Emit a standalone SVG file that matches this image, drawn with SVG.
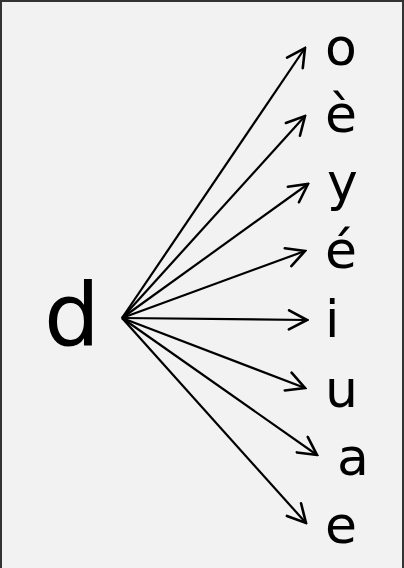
<svg xmlns="http://www.w3.org/2000/svg" width="404" height="568" viewBox="0 0 404 568">
<style>
.t{font-family:"DejaVu Sans","Liberation Sans",sans-serif;fill:#000;}
.v{font-size:52px;}
.c{stroke:#000;stroke-width:2.2;fill:none;marker-end:url(#ah);}
</style>
<defs>
<marker id="ah" viewBox="0 0 22 22" refX="20" refY="11" markerWidth="22" markerHeight="22" markerUnits="userSpaceOnUse" orient="auto">
<path d="M2,1.5 L20,11 L2,20.5" fill="none" stroke="#000" stroke-width="2.6" stroke-linecap="round" stroke-linejoin="miter"/>
</marker>
</defs>
<rect x="1" y="1" width="402" height="590" fill="#f2f2f2" stroke="#333" stroke-width="2"/>
<g id="connectors">
<line class="c" x1="122" y1="318" x2="305" y2="48"/>
<line class="c" x1="122" y1="318" x2="305" y2="116"/>
<line class="c" x1="122" y1="318" x2="308" y2="184"/>
<line class="c" x1="122" y1="318" x2="305" y2="251"/>
<line class="c" x1="122" y1="318" x2="307" y2="320"/>
<line class="c" x1="122" y1="318" x2="305" y2="388"/>
<line class="c" x1="122" y1="318" x2="317" y2="455"/>
<line class="c" x1="122" y1="318" x2="306" y2="523"/>
</g>
<g id="n-d"><text class="t" x="44" y="345" font-size="88">d</text></g>
<g id="n-o"><text class="t v" x="325" y="65">o</text></g>
<g id="n-egrave"><text class="t v" x="325" y="132">è</text></g>
<g id="n-y"><text class="t v" x="327" y="200">y</text></g>
<g id="n-eacute"><text class="t v" x="325" y="268">é</text></g>
<g id="n-i"><text class="t v" x="325" y="337">i</text></g>
<g id="n-u"><text class="t v" x="325" y="407">u</text></g>
<g id="n-a"><text class="t v" x="337" y="475">a</text></g>
<g id="n-e"><text class="t v" x="325" y="543">e</text></g>
</svg>
